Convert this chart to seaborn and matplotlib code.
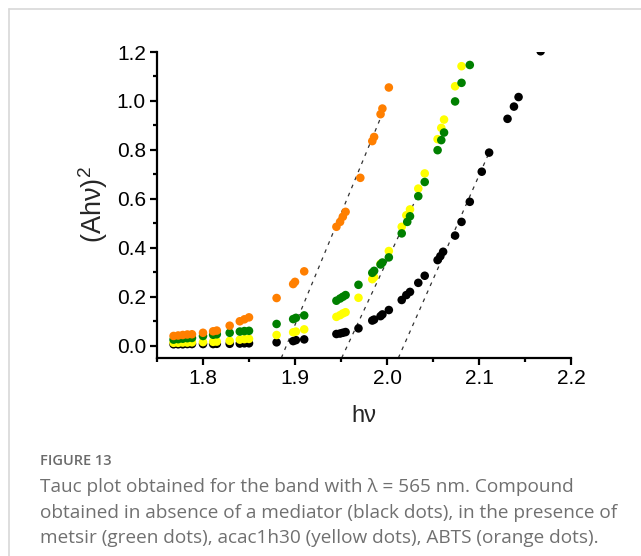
import numpy as np
import pandas as pd
import seaborn as sns
import matplotlib
matplotlib.use("Agg")
import matplotlib.pyplot as plt
from matplotlib.ticker import MultipleLocator, FixedLocator
from matplotlib.lines import Line2D

# ---------------- data ----------------
low_x = [1.768, 1.773, 1.778, 1.783, 1.788, 1.800, 1.811, 1.815, 1.829, 1.840, 1.845, 1.850]

black_x = low_x + [1.880, 1.898, 1.901, 1.910, 1.945, 1.949, 1.952, 1.955, 1.969, 1.984, 1.986,
                   1.993, 1.995, 2.002, 2.016, 2.021, 2.025, 2.034, 2.041, 2.055, 2.058, 2.061,
                   2.074, 2.081, 2.090, 2.103, 2.111, 2.131, 2.138, 2.143, 2.167]
black_y = [0.006, 0.006, 0.006, 0.007, 0.007, 0.007, 0.007, 0.008, 0.008, 0.009, 0.010, 0.010,
           0.014, 0.019, 0.023, 0.026, 0.048, 0.050, 0.053, 0.056, 0.071, 0.103, 0.107,
           0.121, 0.128, 0.146, 0.187, 0.207, 0.220, 0.257, 0.286, 0.350, 0.366, 0.384,
           0.450, 0.506, 0.588, 0.711, 0.789, 0.927, 0.977, 1.016, 1.203]

yellow_x = low_x + [1.880, 1.898, 1.901, 1.910, 1.945, 1.949, 1.952, 1.955, 1.969, 1.984, 1.986,
                    1.993, 2.002, 2.016, 2.021, 2.025, 2.034, 2.041, 2.055, 2.059, 2.062,
                    2.074, 2.081]
yellow_y = [0.012, 0.012, 0.013, 0.013, 0.014, 0.015, 0.016, 0.017, 0.020, 0.025, 0.027, 0.028,
            0.044, 0.055, 0.058, 0.067, 0.118, 0.125, 0.132, 0.137, 0.196, 0.272, 0.280,
            0.335, 0.387, 0.486, 0.533, 0.557, 0.642, 0.704, 0.844, 0.890, 0.924,
            1.060, 1.142]

green_x = low_x + [1.880, 1.898, 1.901, 1.910, 1.945, 1.949, 1.952, 1.955, 1.969, 1.984, 1.986,
                   1.993, 1.995, 2.002, 2.016, 2.022, 2.025, 2.034, 2.041, 2.055, 2.059, 2.062,
                   2.074, 2.081, 2.090]
green_y = [0.025, 0.027, 0.029, 0.031, 0.032, 0.040, 0.045, 0.047, 0.053, 0.058, 0.060, 0.061,
           0.089, 0.109, 0.114, 0.124, 0.184, 0.193, 0.200, 0.207, 0.249, 0.298, 0.306,
           0.332, 0.340, 0.361, 0.459, 0.506, 0.529, 0.611, 0.669, 0.799, 0.840, 0.871,
           0.998, 1.074, 1.147]

orange_x = low_x + [1.880, 1.898, 1.900, 1.910, 1.945, 1.949, 1.952, 1.955, 1.971, 1.984, 1.986,
                    1.993, 1.995, 2.002]
orange_y = [0.040, 0.042, 0.044, 0.046, 0.047, 0.053, 0.059, 0.062, 0.082, 0.100, 0.108, 0.116,
            0.195, 0.252, 0.261, 0.304, 0.486, 0.506, 0.527, 0.547, 0.686, 0.836, 0.853,
            0.946, 0.969, 1.055]

# linear fits (dashed) endpoints
fit_orange_x = [1.8851, 1.998]
fit_orange_y = [-0.05, 0.976]
fit_gy_x = [1.9507, 2.041]
fit_gy_y = [-0.05, 0.676]
fit_black_x = [2.0123, 2.111]
fit_black_y = [-0.05, 0.789]

series_names = ["none", "acac1h30", "metsir", "ABTS"]
series_colors = ["#000000", "#FFFF00", "#008000", "#FF7F00"]

x_ticks = [1.8, 1.9, 2.0, 2.1, 2.2]
x_tick_labels = ["1.8", "1.9", "2.0", "2.1", "2.2"]
y_ticks = [0.0, 0.2, 0.4, 0.6, 0.8, 1.0, 1.2]
y_tick_labels = ["0.0", "0.2", "0.4", "0.6", "0.8", "1.0", "1.2"]

caption_title = "FIGURE 13"
caption_lines = [
    "Tauc plot obtained for the band with \u03bb = 565 nm. Compound",
    "obtained in absence of a mediator (black dots), in the presence of",
    "metsir (green dots), acac1h30 (yellow dots), ABTS (orange dots).",
]

# ---------------- build frame ----------------
frames = []
for name, xs, ys in zip(series_names,
                        [black_x, yellow_x, green_x, orange_x],
                        [black_y, yellow_y, green_y, orange_y]):
    frames.append(pd.DataFrame({"x": xs, "y": ys, "s": name}))
df = pd.concat(frames, ignore_index=True)

sns.set_theme(style="ticks")
plt.rcParams["font.family"] = ["Liberation Sans", "DejaVu Sans"]
plt.rcParams["mathtext.fontset"] = "custom"
plt.rcParams["mathtext.rm"] = "Liberation Sans"
plt.rcParams["mathtext.it"] = "Liberation Sans:italic"

fig = plt.figure(figsize=(6.41, 5.56), dpi=100)
fig.patch.set_facecolor("white")
ax = fig.add_axes([157 / 641, 1 - 358 / 556, (571 - 157) / 641, (358 - 52) / 556])

for fx, fy in [(fit_orange_x, fit_orange_y), (fit_gy_x, fit_gy_y), (fit_black_x, fit_black_y)]:
    sns.lineplot(x=fx, y=fy, ax=ax, color="#333333", lw=0.9, linestyle=(0, (3, 4)),
                 estimator=None, sort=False, zorder=1)

sns.scatterplot(data=df, x="x", y="y", hue="s", hue_order=series_names,
                palette=series_colors, s=38, linewidth=0, edgecolor="none",
                legend=False, ax=ax, zorder=3, clip_on=True)

ax.set_xlim(1.75, 2.2)
ax.set_ylim(-0.05, 1.2)
ax.xaxis.set_major_locator(FixedLocator(x_ticks))
ax.set_xticklabels(x_tick_labels)
ax.yaxis.set_major_locator(FixedLocator(y_ticks))
ax.set_yticklabels(y_tick_labels)
ax.xaxis.set_minor_locator(MultipleLocator(0.05))
ax.yaxis.set_minor_locator(MultipleLocator(0.1))

for side in ["top", "right"]:
    ax.spines[side].set_visible(False)
for side in ["left", "bottom"]:
    ax.spines[side].set_linewidth(1.6)
    ax.spines[side].set_color("black")

ax.tick_params(axis="both", which="major", direction="out", length=5, width=1.6,
               labelsize=15, colors="black", pad=3)
ax.tick_params(axis="both", which="minor", direction="out", length=3, width=1.6, colors="black")

ax.set_xlabel("h\u03bd", fontsize=17, labelpad=12)
ax.set_ylabel("(Ah\u03bd)$^{2}$", fontsize=19.5, labelpad=5)
ax.grid(False)

# border lines of the figure box
fig.add_artist(Line2D([9 / 641, 1], [1 - 9 / 556, 1 - 9 / 556], color="#d8d8d8", lw=1.2))
fig.add_artist(Line2D([9 / 641, 9 / 641], [0, 1 - 9 / 556], color="#d8d8d8", lw=1.2))

# caption
fig.text(40 / 641, 1 - 461 / 556, caption_title, fontsize=10.5, color="#6b6b6b",
         family=["Open Sans", "DejaVu Sans"], weight="semibold", va="center", ha="left")
for i, line in enumerate(caption_lines):
    fig.text(40 / 641, 1 - (487 + 25.5 * i) / 556, line, fontsize=13.7, color="#707070",
             family=["Open Sans", "DejaVu Sans"], va="center", ha="left")

fig.savefig("out.png", dpi=100, facecolor="white")
